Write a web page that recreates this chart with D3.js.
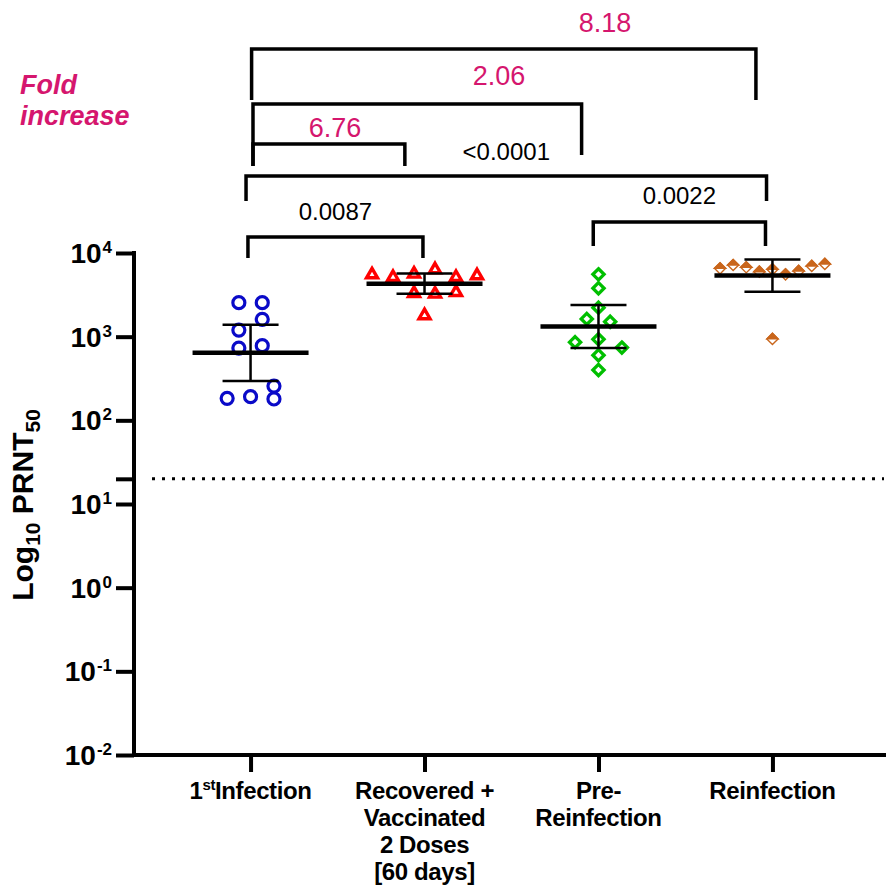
<!DOCTYPE html>
<html>
<head>
<meta charset="utf-8">
<script src="https://cdn.jsdelivr.net/npm/d3@7"></script>
<style>
body { margin: 0; background: #fff; }
text { font-family: "Liberation Sans", Arial, sans-serif; }
</style>
</head>
<body>
<svg id="chart" width="886" height="892"></svg>
<script>
// groups and their tick labels ("^" toggles superscript)
const groups = ["1st Infection", "Recovered + Vaccinated 2 Doses [60 days]", "Pre-Reinfection", "Reinfection"];
const groupLabels = [
    ["1^st^Infection"],
    ["Recovered +", "Vaccinated", "2 Doses", "[60 days]"],
    ["Pre-", "Reinfection"],
    ["Reinfection"]
];

// PRNT50 titres
const firstInfection = [2550, 2550, 1610, 1200, 730, 780, 257, 183, 192, 180];
const recoveredVaccinated = [5610, 5210, 5720, 6440, 5210, 5460, 3360, 3300, 3450, 1820];
const preReinfection = [5560, 3790, 2220, 1630, 1510, 860, 930, 740, 600, 400];
const reinfection = [6560, 7190, 6750, 5980, 6380, 5560, 6100, 7000, 7400, 940];

// column slot of each point in the scatter
const firstSlot = [-1, 1, 1, -1, -1, 1, 2, -2, 0, 2];
const recoveredSlot = [-5, -3, -1, 1, 3, 5, -1, 1, 3, 0];
const preSlot = [0, 0, 0, -1, 1, -2, 0, 2, 0, 0];
const reinfSlot = [-4, -3, -2, -1, 0, 1, 2, 3, 4, 0];

const yTicks = [1e-2, 1e-1, 1, 10, 100, 1e3, 1e4];
const detectionLimit = 20;

// comparisons: [from group, to group], label
const foldPairs = [[0, 3], [0, 2], [0, 1]];
const foldLabels = ["8.18", "2.06", "6.76"];
const pPairs = [[0, 3], [0, 1], [2, 3]];
const pLabels = ["<0.0001", "0.0087", "0.0022"];

const tCrit = 2.262; // 95% CI, df = 9

const series = [
    { values: firstInfection, slots: firstSlot },
    { values: recoveredVaccinated, slots: recoveredSlot },
    { values: preReinfection, slots: preSlot },
    { values: reinfection, slots: reinfSlot }
];

const markerStyle = [
    { shape: "circle", color: "#0a0ac8", spacing: 11.7 },
    { shape: "triangle", color: "#ff0000", spacing: 10.5 },
    { shape: "diamond", color: "#00bf00", spacing: 11.7 },
    { shape: "halfdiamond", color: "#c9661c", spacing: 13.1 }
];

// bracket layout: top y, leg ends, x in group-index units
const foldLayout = [
    { top: 49, legL: 100, legR: 100, x0: 0.006, x1: 2.905, lx: 2.037, ly: 32 },
    { top: 104, legL: 166, legR: 155, x0: 0.014, x1: 1.903, lx: 1.428, ly: 85 },
    { top: 144, legL: 166, legR: 166, x0: 0.014, x1: 0.887, lx: 0.485, ly: 137 }
];
const pLayout = [
    { top: 176, legL: 201, legR: 201, x0: -0.026, x1: 2.966, ly: 160 },
    { top: 237, legL: 258, legR: 258, x0: -0.015, x1: 0.991, ly: 220 },
    { top: 222, legL: 246, legR: 246, x0: 1.97, x1: 2.96, ly: 204 }
];

const magenta = "#d5166e";

const svg = d3.select("#chart");

const x = d3.scalePoint().domain(groups).range([134, 889]).padding(0.67);
const y = d3.scaleLog().domain([1e-2, 1e4]).range([755, 253]);
const xi = d3.scaleLinear().domain([0, 3]).range([x(groups[0]), x(groups[3])]);

function stats(vals) {
    const logs = vals.map(Math.log10);
    const m = d3.mean(logs);
    const h = tCrit * d3.deviation(logs) / Math.sqrt(logs.length);
    return { gm: 10 ** m, lo: 10 ** (m - h), hi: 10 ** (m + h) };
}

// dotted detection limit
svg.append("line")
    .attr("x1", 152).attr("x2", 884)
    .attr("y1", y(detectionLimit)).attr("y2", y(detectionLimit))
    .style("stroke", "black")
    .style("stroke-width", 3)
    .style("stroke-dasharray", "3,7");

// y axis
const yAxis = svg.append("g")
    .attr("transform", "translate(134,0)")
    .call(d3.axisLeft(y).tickValues(yTicks.concat([detectionLimit])).tickSize(18).tickSizeOuter(0).tickFormat(""));
yAxis.selectAll("path, line").style("stroke", "black").style("stroke-width", 4);
yAxis.select(".domain").attr("d", "M0,755V251");

const yLabels = svg.append("g");
yTicks.forEach(function (t) {
    const txt = yLabels.append("text")
        .attr("x", 112)
        .attr("y", y(t) + 10)
        .attr("text-anchor", "end")
        .style("font-weight", "bold")
        .style("font-size", "28px");
    txt.append("tspan").text("10");
    txt.append("tspan")
        .attr("dy", -10)
        .attr("dx", 1)
        .style("font-size", "17px")
        .text(Math.round(Math.log10(t)));
});

// x axis
const xAxis = svg.append("g")
    .attr("transform", "translate(0,755)")
    .call(d3.axisBottom(x).tickSize(17).tickSizeOuter(0).tickFormat(""));
xAxis.selectAll("path, line").style("stroke", "black").style("stroke-width", 4);
xAxis.select(".domain").attr("d", "M132,0H889");

groups.forEach(function (g, gi) {
    groupLabels[gi].forEach(function (line, li) {
        const txt = svg.append("text")
            .attr("x", x(g))
            .attr("y", 799 + li * 27)
            .attr("text-anchor", "middle")
            .style("font-weight", "bold")
            .style("font-size", "24px")
            .style("letter-spacing", "-0.4px");
        line.split("^").forEach(function (part, pi) {
            const sup = pi % 2 === 1;
            const ts = txt.append("tspan").text(part);
            if (sup) {
                ts.attr("dy", -9).style("font-size", "15px");
            } else if (pi > 0) {
                ts.attr("dy", 9);
            }
        });
    });
});

// y axis title
const title = svg.append("text")
    .attr("transform", "translate(33,505) rotate(-90)")
    .attr("text-anchor", "middle")
    .style("font-weight", "bold")
    .style("font-size", "30px");
title.append("tspan").text("Log");
title.append("tspan").attr("dy", 7).style("font-size", "21px").text("10");
title.append("tspan").attr("dy", -7).text(" PRNT");
title.append("tspan").attr("dy", 7).style("font-size", "21px").text("50");

// markers
function triPath(s) {
    const h = s * Math.sqrt(3) / 2;
    return `M0,${-h * 0.6}L${s / 2},${h * 0.4}L${-s / 2},${h * 0.4}Z`;
}
function diamondPath(r) {
    return `M0,${-r}L${r},0L0,${r}L${-r},0Z`;
}

series.forEach(function (s, gi) {
    const st = markerStyle[gi];
    const cx = x(groups[gi]);
    const pts = s.values.map((v, i) => ({ v: v, slot: s.slots[i] }));
    const g = svg.append("g").attr("class", "points");
    const sel = g.selectAll("g").data(pts).enter().append("g")
        .attr("transform", d => `translate(${cx + d.slot * st.spacing} ${y(d.v)})`);
    if (st.shape === "circle") {
        sel.append("circle").attr("r", 6)
            .style("fill", "white").style("stroke", st.color).style("stroke-width", 3.2);
    } else if (st.shape === "triangle") {
        sel.append("path").attr("d", triPath(11))
            .style("fill", "white").style("stroke", st.color).style("stroke-width", 3.4)
            .style("stroke-linejoin", "miter");
    } else if (st.shape === "diamond") {
        sel.append("path").attr("d", diamondPath(5.6))
            .style("fill", "white").style("stroke", st.color).style("stroke-width", 3.3);
    } else {
        sel.append("path").attr("d", diamondPath(5.6))
            .style("fill", "white").style("stroke", st.color).style("stroke-width", 1.4);
        sel.append("path").attr("d", "M-5.6,0L0,-5.6L5.6,0Z")
            .style("fill", st.color).style("stroke", st.color).style("stroke-width", 1.4);
    }

    // geometric mean with 95% CI
    const r = stats(s.values);
    const bars = svg.append("g").style("stroke", "black");
    bars.append("line")
        .attr("x1", cx - 58).attr("x2", cx + 58)
        .attr("y1", y(r.gm)).attr("y2", y(r.gm))
        .style("stroke-width", 4.5);
    bars.append("line")
        .attr("x1", cx).attr("x2", cx)
        .attr("y1", y(r.lo)).attr("y2", y(r.hi))
        .style("stroke-width", 2.5);
    [r.lo, r.hi].forEach(function (v) {
        bars.append("line")
            .attr("x1", cx - 28).attr("x2", cx + 28)
            .attr("y1", y(v)).attr("y2", y(v))
            .style("stroke-width", 2.5);
    });
});

// comparison brackets
function bracket(b) {
    svg.append("path")
        .attr("d", `M${xi(b.x0)},${b.legL}V${b.top}H${xi(b.x1)}V${b.legR}`)
        .style("fill", "none")
        .style("stroke", "black")
        .style("stroke-width", 3.5)
        .style("stroke-linejoin", "miter");
}

foldPairs.forEach(function (p, i) {
    const b = foldLayout[i];
    bracket(b);
    svg.append("text")
        .attr("x", xi(b.lx))
        .attr("y", b.ly)
        .attr("text-anchor", "middle")
        .style("font-size", "27px")
        .style("fill", magenta)
        .text(foldLabels[i]);
});

pPairs.forEach(function (p, i) {
    const b = pLayout[i];
    bracket(b);
    svg.append("text")
        .attr("x", (xi(b.x0) + xi(b.x1)) / 2)
        .attr("y", b.ly)
        .attr("text-anchor", "middle")
        .style("font-size", "24px")
        .style("fill", "black")
        .text(pLabels[i]);
});

svg.append("text")
    .attr("x", 20).attr("y", 94)
    .style("font-size", "27px").style("font-weight", "bold").style("font-style", "italic")
    .style("fill", magenta)
    .text("Fold");
svg.append("text")
    .attr("x", 20).attr("y", 125)
    .style("font-size", "27px").style("font-weight", "bold").style("font-style", "italic")
    .style("fill", magenta)
    .text("increase");
</script>
</body>
</html>
